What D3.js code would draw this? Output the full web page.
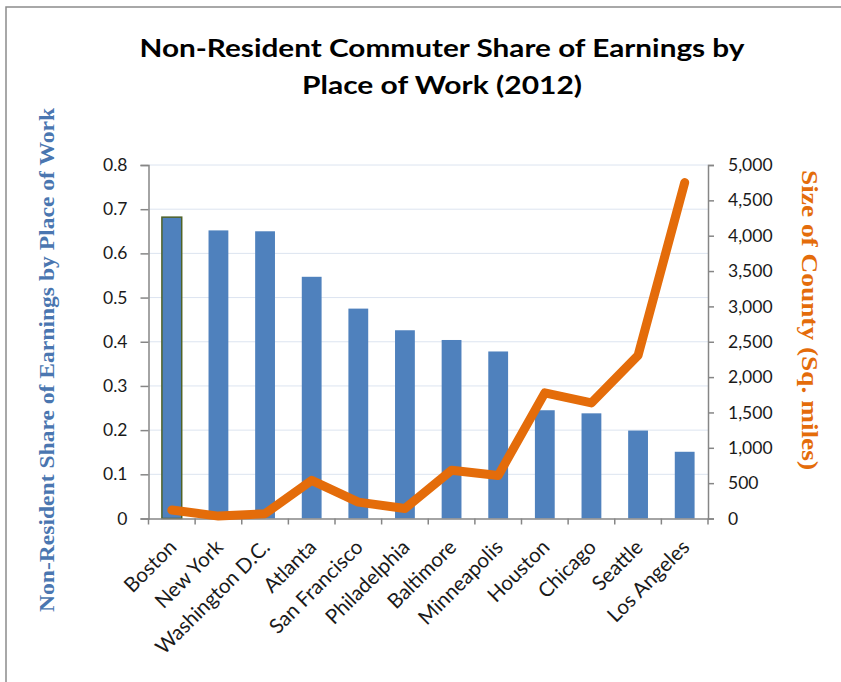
<!DOCTYPE html>
<html>
<head>
<meta charset="utf-8">
<script src="https://cdn.jsdelivr.net/npm/d3@7"></script>
<style>
  body { margin: 0; background: #fff; }
  svg { display: block; }
</style>
</head>
<body>
<svg id="chart" width="841" height="682"></svg>
<script>
const cities = ["Boston", "New York", "Washington D.C.", "Atlanta", "San Francisco", "Philadelphia",
  "Baltimore", "Minneapolis", "Houston", "Chicago", "Seattle", "Los Angeles"];
const earningsShare = [0.682, 0.652, 0.650, 0.547, 0.475, 0.426, 0.404, 0.378, 0.245, 0.238, 0.199, 0.151];
const countySize = [120, 34, 68, 540, 232, 142, 682, 607, 1777, 1635, 2307, 4751];
const leftTicks = [0, 0.1, 0.2, 0.3, 0.4, 0.5, 0.6, 0.7, 0.8];
const rightTicks = [0, 500, 1000, 1500, 2000, 2500, 3000, 3500, 4000, 4500, 5000];

const svg = d3.select("#chart");
const margin = { left: 148.5, right: 708, top: 165, bottom: 518.5 };
const sansFont = "Lato, 'Open Sans', sans-serif";
const serifFont = "'Liberation Serif', 'DejaVu Serif', serif";

// frame
svg.append("path")
  .attr("d", "M6,690 L6,7 L850,7")
  .attr("fill", "none")
  .attr("stroke", "#8c8c8c")
  .attr("stroke-width", 1.5);

const x = d3.scaleBand().domain(cities).range([margin.left, margin.right]).paddingInner(0.575).paddingOuter(0.2875);
const yL = d3.scaleLinear().domain([0, 0.8]).range([margin.bottom, margin.top]);
const yR = d3.scaleLinear().domain([0, 5000]).range([margin.bottom, margin.top]);

// gridlines
svg.append("g").selectAll("line").data(leftTicks.slice(1)).join("line")
  .attr("x1", margin.left).attr("x2", margin.right)
  .attr("y1", d => yL(d)).attr("y2", d => yL(d))
  .attr("stroke", "#dce4f0").attr("stroke-width", 1);

// bars
svg.append("g").selectAll("rect").data(cities).join("rect")
  .attr("x", d => x(d))
  .attr("width", x.bandwidth())
  .attr("y", (d, i) => yL(earningsShare[i]))
  .attr("height", (d, i) => yL(0) - yL(earningsShare[i]))
  .attr("fill", "#4f81bd")
  .attr("stroke", (d, i) => i === 0 ? "#4f6228" : "none")
  .attr("stroke-width", 1.5);

// axes
const axL = svg.append("g").attr("transform", `translate(${margin.left},0)`)
  .call(d3.axisLeft(yL).tickValues(leftTicks).tickFormat(d => d === 0 ? "0" : d3.format(".1f")(d))
    .tickSizeOuter(0).tickSize(8).tickPadding(13));
const axR = svg.append("g").attr("transform", `translate(${margin.right},0)`)
  .call(d3.axisRight(yR).tickValues(rightTicks).tickFormat(d3.format(",")).tickSizeOuter(0).tickSize(6).tickPadding(14));
const axB = svg.append("g").attr("transform", `translate(0,${margin.bottom})`)
  .call(d3.axisBottom(x).tickSize(0).tickSizeOuter(0).tickFormat(""));
// category boundary ticks
svg.append("g").selectAll("line").data(d3.range(cities.length + 1)).join("line")
  .attr("x1", i => margin.left + i * (margin.right - margin.left) / cities.length)
  .attr("x2", i => margin.left + i * (margin.right - margin.left) / cities.length)
  .attr("y1", margin.bottom).attr("y2", margin.bottom + 6)
  .attr("stroke", "#868686").attr("stroke-width", 1.5);

[axL, axR, axB].forEach(a => {
  a.selectAll(".domain, line").attr("stroke", "#868686").attr("stroke-width", 1.5);
  a.selectAll("text").attr("font-family", sansFont).attr("font-size", 17.5).attr("fill", "#1a1a1a");
});

// category labels
svg.append("g").selectAll("text").data(cities).join("text")
  .attr("transform", d => `translate(${x(d) + x.bandwidth() / 2 + 6},${margin.bottom + 30}) rotate(-45)`)
  .attr("text-anchor", "end")
  .attr("font-family", sansFont)
  .attr("font-size", 20.5)
  .attr("fill", "#1a1a1a")
  .text(d => d);

// line
const line = d3.line()
  .x((d, i) => x(cities[i]) + x.bandwidth() / 2)
  .y(d => yR(d));
svg.append("path")
  .datum(countySize)
  .attr("d", line)
  .attr("fill", "none")
  .attr("stroke", "#e46c0a")
  .attr("stroke-width", 9)
  .attr("stroke-linecap", "round")
  .attr("stroke-linejoin", "round");

// title
const titleLines = [
  { text: "Non-Resident Commuter Share of Earnings by", y: 57, len: 605 },
  { text: "Place of Work (2012)", y: 94, len: 280 }
];
svg.append("g").selectAll("text").data(titleLines).join("text")
  .attr("x", 442).attr("y", d => d.y)
  .attr("text-anchor", "middle")
  .attr("font-family", sansFont)
  .attr("font-weight", "bold")
  .attr("font-size", 25)
  .attr("textLength", d => d.len)
  .attr("lengthAdjust", "spacingAndGlyphs")
  .attr("fill", "#000")
  .text(d => d.text);

// axis titles
svg.append("text")
  .attr("transform", "translate(54,360) rotate(-90)")
  .attr("text-anchor", "middle")
  .attr("font-family", serifFont)
  .attr("font-weight", "bold")
  .attr("font-size", 20)
  .attr("textLength", 504)
  .attr("lengthAdjust", "spacingAndGlyphs")
  .attr("fill", "#4a76b0")
  .text("Non-Resident Share of Earnings by Place of Work");

svg.append("text")
  .attr("transform", "translate(802,320) rotate(90)")
  .attr("text-anchor", "middle")
  .attr("font-family", serifFont)
  .attr("font-weight", "bold")
  .attr("font-size", 23)
  .attr("textLength", 300)
  .attr("lengthAdjust", "spacingAndGlyphs")
  .attr("fill", "#e46c0a")
  .text("Size of County (Sq. miles)");
</script>
</body>
</html>
